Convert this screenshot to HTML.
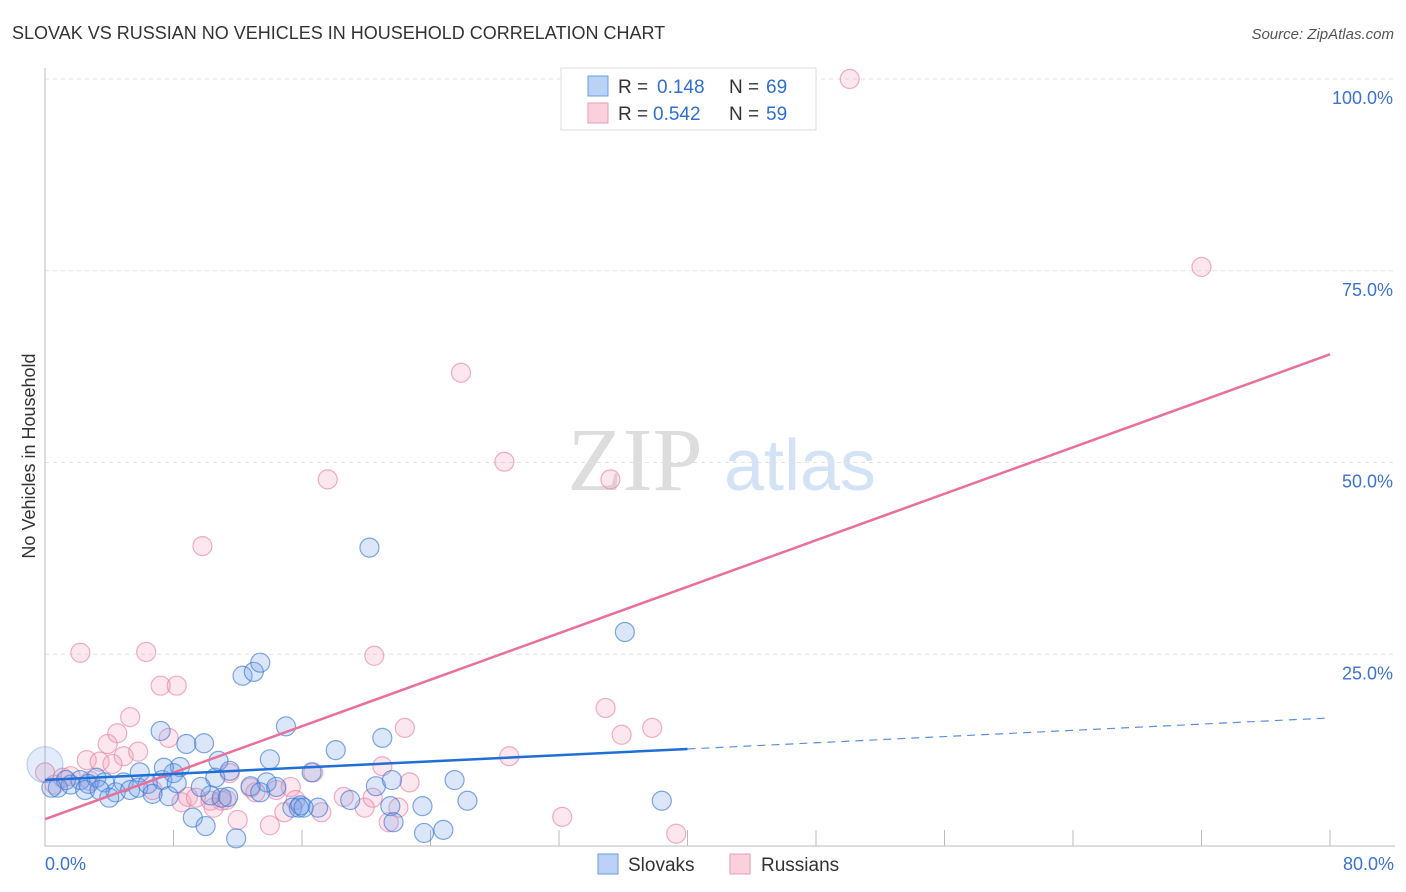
<!DOCTYPE html>
<html><head><meta charset="utf-8"><style>
body{margin:0;background:#fff;font-family:"Liberation Sans",sans-serif}
svg{display:block}
</style></head><body>
<svg id="c" width="1406" height="892">
<text x="12" y="39" font-size="18" fill="#333">SLOVAK VS RUSSIAN NO VEHICLES IN HOUSEHOLD CORRELATION CHART</text>
<text x="1394" y="39" font-size="15" fill="#555" font-style="italic" text-anchor="end">Source: ZipAtlas.com</text>
<text x="35" y="456" font-size="18" fill="#333" text-anchor="middle" transform="rotate(-90 35 456)">No Vehicles in Household</text>
<g><text x="635" y="490" font-size="90" fill="#ddd" font-family="Liberation Serif" text-anchor="middle">ZIP</text><text x="800" y="490" font-size="72" fill="#d4e2f5" text-anchor="middle">atlas</text></g>
<g id="grid"></g><g id="marks"></g><g id="lines"></g>
<g>
<rect x="561" y="68" width="255" height="62" fill="#fff" stroke="#ddd"/>
<rect x="588" y="76" width="20" height="20" fill="#b9d2f5" stroke="#6a9de0"/>
<rect x="588" y="103" width="20" height="20" fill="#fbd0dd" stroke="#eb9bb5"/>
<text x="618" y="93" font-size="19" fill="#333">R =</text><text x="657" y="93" font-size="19" fill="#2f6fd0">0.148</text>
<text x="729" y="93" font-size="19" fill="#333">N =</text><text x="766" y="93" font-size="19" fill="#2f6fd0">69</text>
<text x="618" y="120" font-size="19" fill="#333">R =</text><text x="653" y="120" font-size="19" fill="#2f6fd0">0.542</text>
<text x="729" y="120" font-size="19" fill="#333">N =</text><text x="766" y="120" font-size="19" fill="#2f6fd0">59</text>
</g>
<g>
<rect x="598" y="854" width="20" height="20" fill="#b9d2f5" stroke="#6a9de0"/>
<text x="628" y="871" font-size="19" fill="#333">Slovaks</text>
<rect x="730" y="854" width="20" height="20" fill="#fbd0dd" stroke="#eb9bb5"/>
<text x="761" y="871" font-size="19" fill="#333">Russians</text>
</g>
</svg>
<script>
const slovakX=[1.6,2.2,2.7,3.2,2.5,3.7,4.4,4.9,5.3,5.8,5.9,6.4,6.7,7.2,7.3,7.7,8.0,8.4,8.8,9.2,9.9,10.0,10.3,10.6,10.8,11.0,11.4,11.5,11.9,12.3,13.0,13.4,13.8,14.0,14.4,15.0,15.4,15.8,15.9,16.6,17.0,18.1,19.0,20.2,20.6,21.0,21.5,21.6,21.7,23.5,23.6,24.8,25.5,26.3,36.1,38.4,0.8,4.0,3.4,9.7,7.4,8.2,12.8,13.4,16.1,1.3,0.4,0];
const slovakY=[8.0,8.6,8.1,8.9,7.3,8.3,7.0,8.3,7.3,7.6,9.6,8.1,6.8,15.0,8.6,6.5,9.5,10.3,13.3,3.7,13.4,2.6,6.6,8.9,11.1,6.3,6.4,9.8,1.0,22.2,22.7,23.9,8.3,11.3,7.7,15.6,5.0,5.0,5.3,9.6,5.0,12.5,6.0,38.9,7.8,14.1,5.2,8.6,3.1,5.2,1.7,2.1,8.6,5.9,27.9,5.9,7.6,6.3,7.3,7.7,10.2,8.2,7.8,7.0,5.0,8.6,7.6,10.6];
const russianX=[0,0.6,1.1,1.6,2.2,2.6,3.4,3.9,4.5,4.9,5.3,5.8,6.3,6.7,7.2,7.7,8.2,8.5,8.9,9.4,9.8,10.3,10.5,11.0,11.3,11.5,12.0,12.8,13.1,14.0,14.4,14.9,15.3,15.6,16.7,17.2,17.6,18.6,19.9,20.4,20.5,21.0,21.4,22.0,22.4,22.7,25.9,28.6,28.9,32.2,34.9,35.2,35.9,37.8,39.3,50.1,72.0,4.2,2.8];
const russianY=[9.6,8.0,8.9,9.1,25.2,11.2,11.0,13.3,14.7,11.7,16.8,12.3,25.3,7.3,20.9,14.1,20.9,5.7,6.4,6.3,39.1,5.9,5.0,5.9,6.0,9.5,3.4,7.6,7.0,2.7,7.3,4.4,7.7,6.0,9.6,4.4,47.8,6.4,5.0,6.3,24.8,10.4,3.1,5.0,15.4,8.3,61.7,50.1,11.7,3.8,18.0,47.8,14.5,15.4,1.6,100,75.5,10.7,8.5];
const yTicks=[25,50,75,100];
const yTickLabels=["25.0%","50.0%","75.0%","100.0%"];
const xTickLabels=["0.0%","80.0%"];
const slovakTrend=[8.6,16.7];
const russianTrend=[3.5,64.1];
const NS='http://www.w3.org/2000/svg';
const X0=45,X1=1330,Y0=846,Y100=79;
const sx=v=>X0+(X1-X0)*v/80;
const sy=v=>Y0-(Y0-Y100)*v/100;
function mk(tag,attrs,parent){const e=document.createElementNS(NS,tag);for(const k in attrs)e.setAttribute(k,attrs[k]);parent.appendChild(e);return e;}
const grid=document.getElementById('grid');
yTicks.forEach((t,i)=>{
 const l=mk('line',{x1:X0,x2:1395,y1:sy(t),y2:sy(t),stroke:'#e2e2e2','stroke-dasharray':'4,4'},grid);
 
 
 const tx=mk('text',{x:1393,y:sy(t)+25,'font-size':18,fill:'#3b73d1','text-anchor':'end'},grid);
 tx.textContent=yTickLabels[i];
 
 
});
const ax=mk('path',{d:`M${X0} 68V${Y0}H1395`,stroke:'#bbb',fill:'none'},grid);


for(let i=1;i<=10;i++){
 const v=i*8;
 const t=mk('line',{x1:sx(v),x2:sx(v),y1:Y0,y2:Y0-16,stroke:'#bbb'},grid);
 
 
}
[[0,'start',X0],[80,'end',1394]].forEach((p,i)=>{
 const tx=mk('text',{x:p[2],y:870,'font-size':18,fill:'#3b73d1','text-anchor':p[1]},grid);
 tx.textContent=xTickLabels[i];
 
 
});
const marks=document.getElementById('marks');
function pts(xs,ys,fill,stroke,name){
 xs.forEach((x,i)=>{
  const big=(name==='slovak-point'&&x===0&&i===xs.length-1);
  const c=mk('circle',{cx:sx(x),cy:sy(ys[i]),r:big?18:9.5,fill:big?'rgba(110,160,232,0.2)':fill,stroke:big?'rgba(60,120,215,0.3)':stroke,'stroke-width':1.2},marks);
  
  
 });
}
pts(russianX,russianY,'rgba(244,160,188,0.25)','rgba(232,130,165,0.65)','russian-point');
pts(slovakX,slovakY,'rgba(110,160,232,0.25)','rgba(60,120,215,0.65)','slovak-point');
const lines=document.getElementById('lines');
const sl=v=>slovakTrend[0]+(slovakTrend[1]-slovakTrend[0])*v/80;
const rl=v=>russianTrend[0]+(russianTrend[1]-russianTrend[0])*v/80;
let e=mk('line',{x1:sx(0),y1:sy(rl(0)),x2:sx(80),y2:sy(rl(80)),stroke:'#e8709a','stroke-width':2.5},lines);


e=mk('line',{x1:sx(0),y1:sy(sl(0)),x2:sx(40),y2:sy(sl(40)),stroke:'#1f6fd6','stroke-width':2.5},lines);


e=mk('line',{x1:sx(40),y1:sy(sl(40)),x2:sx(80),y2:sy(sl(80)),stroke:'#5a8fdc','stroke-width':1.2,'stroke-dasharray':'8,6'},lines);


</script>
</body></html>
